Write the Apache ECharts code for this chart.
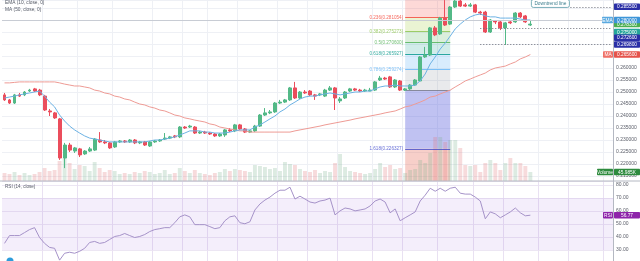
<!DOCTYPE html>
<html><head><meta charset="utf-8">
<script src="https://cdn.jsdelivr.net/npm/echarts@6/dist/echarts.min.js"></script>
<style>html,body{margin:0;padding:0;background:#fff}#c{width:640px;height:261px}</style>
</head><body><div id="c"></div>
<script>
const slotCount = 122;
const categories = [];
(function(){const d0=Date.UTC(2020,0,1);for(let i=0;i<slotCount;i++){categories.push(new Date(d0+i*86400000).toISOString().slice(0,10));}})();

// [open, close, low, high]
const ohlc = [
[0.2488,0.2467,0.2463,0.2496],[0.2467,0.2454,0.2450,0.2471],[0.2454,0.2488,0.2450,0.2492],[0.2488,0.2483,0.2479,0.2496],
[0.2488,0.2500,0.2483,0.2504],[0.2504,0.2508,0.2500,0.2513],[0.2513,0.2504,0.2500,0.2517],[0.2508,0.2488,0.2483,0.2513],
[0.2483,0.2425,0.2421,0.2488],[0.2421,0.2417,0.2400,0.2429],[0.2413,0.2392,0.2388,0.2417],[0.2388,0.2225,0.2217,0.2392],
[0.2225,0.2279,0.2183,0.2288],[0.2279,0.2258,0.2250,0.2288],[0.2254,0.2267,0.2246,0.2271],[0.2263,0.2238,0.2229,0.2267],
[0.2242,0.2254,0.2238,0.2258],[0.2254,0.2263,0.2250,0.2271],[0.2258,0.2304,0.2254,0.2308],[0.2300,0.2292,0.2288,0.2333],
[0.2292,0.2288,0.2283,0.2300],[0.2288,0.2267,0.2263,0.2292],[0.2271,0.2292,0.2267,0.2296],[0.2292,0.2296,0.2288,0.2300],
[0.2296,0.2292,0.2288,0.2300],[0.2292,0.2300,0.2288,0.2304],[0.2300,0.2288,0.2283,0.2304],[0.2288,0.2292,0.2283,0.2296],
[0.2292,0.2279,0.2275,0.2296],[0.2275,0.2292,0.2271,0.2296],[0.2292,0.2296,0.2288,0.2300],[0.2296,0.2300,0.2292,0.2304],
[0.2304,0.2308,0.2300,0.2329],[0.2308,0.2313,0.2304,0.2317],[0.2317,0.2313,0.2308,0.2321],[0.2313,0.2354,0.2308,0.2358],
[0.2354,0.2350,0.2346,0.2358],[0.2354,0.2358,0.2350,0.2363],[0.2354,0.2329,0.2325,0.2358],[0.2329,0.2333,0.2325,0.2338],
[0.2333,0.2329,0.2325,0.2338],[0.2329,0.2325,0.2321,0.2333],[0.2325,0.2317,0.2313,0.2329],[0.2317,0.2325,0.2313,0.2329],
[0.2321,0.2342,0.2313,0.2346],[0.2342,0.2338,0.2333,0.2350],[0.2338,0.2363,0.2333,0.2367],[0.2363,0.2346,0.2342,0.2367],
[0.2346,0.2333,0.2329,0.2350],[0.2333,0.2338,0.2329,0.2342],[0.2338,0.2358,0.2333,0.2363],[0.2358,0.2404,0.2354,0.2408],
[0.2404,0.2413,0.2400,0.2433],[0.2413,0.2417,0.2408,0.2425],[0.2417,0.2454,0.2413,0.2458],[0.2454,0.2458,0.2450,0.2467],
[0.2458,0.2467,0.2454,0.2471],[0.2467,0.2517,0.2463,0.2521],[0.2517,0.2475,0.2471,0.2542],[0.2475,0.2500,0.2471,0.2504],
[0.2500,0.2496,0.2492,0.2508],[0.2504,0.2488,0.2483,0.2508],[0.2488,0.2483,0.2467,0.2492],[0.2488,0.2492,0.2483,0.2496],
[0.2483,0.2508,0.2479,0.2513],[0.2508,0.2517,0.2504,0.2525],[0.2517,0.2475,0.2425,0.2521],[0.2463,0.2471,0.2454,0.2479],
[0.2475,0.2500,0.2471,0.2504],[0.2504,0.2513,0.2500,0.2517],[0.2513,0.2508,0.2504,0.2517],[0.2508,0.2504,0.2500,0.2513],
[0.2504,0.2508,0.2500,0.2513],[0.2504,0.2508,0.2504,0.2517],[0.2508,0.2542,0.2504,0.2546],[0.2550,0.2558,0.2546,0.2567],
[0.2558,0.2554,0.2550,0.2563],[0.2563,0.2521,0.2517,0.2567],[0.2521,0.2550,0.2517,0.2554],[0.2546,0.2508,0.2504,0.2550],
[0.2508,0.2513,0.2504,0.2517],[0.2513,0.2529,0.2508,0.2533],[0.2529,0.2550,0.2525,0.2554],[0.2546,0.2646,0.2542,0.2650],
[0.2646,0.2654,0.2642,0.2688],[0.2654,0.2767,0.2650,0.2771],[0.2767,0.2738,0.2733,0.2775],[0.2742,0.2808,0.2738,0.2813],
[0.2808,0.2779,0.2775,0.2883],[0.2783,0.2854,0.2779,0.2858],[0.2854,0.2879,0.2850,0.2892],[0.2879,0.2858,0.2854,0.2896],
[0.2863,0.2858,0.2854,0.2871],[0.2858,0.2863,0.2854,0.2871],[0.2863,0.2833,0.2829,0.2867],[0.2833,0.2829,0.2821,0.2838],
[0.2833,0.2750,0.2746,0.2838],[0.2750,0.2800,0.2746,0.2804],[0.2796,0.2792,0.2783,0.2800],[0.2792,0.2767,0.2758,0.2796],
[0.2767,0.2788,0.2696,0.2792],[0.2792,0.2788,0.2783,0.2800],[0.2792,0.2829,0.2788,0.2833],[0.2829,0.2813,0.2808,0.2833],
[0.2817,0.2792,0.2788,0.2821],[0.2779,0.2783,0.2775,0.2796]
];

const ema10 = [
0.2475,0.2479,0.2483,0.2488,0.2492,0.2496,0.2500,0.2504,0.2483,0.2458,
0.2438,0.2404,0.2379,0.2358,0.2342,0.2329,0.2317,0.2308,0.2304,0.2300,
0.2296,0.2292,0.2292,0.2292,0.2292,0.2292,0.2292,0.2292,0.2292,0.2296,
0.2300,0.2300,0.2304,0.2308,0.2313,0.2321,0.2329,0.2338,0.2338,0.2338,
0.2333,0.2333,0.2329,0.2329,0.2329,0.2333,0.2338,0.2342,0.2342,0.2342,
0.2354,0.2363,0.2375,0.2388,0.2400,0.2417,0.2429,0.2446,0.2458,0.2471,
0.2479,0.2483,0.2483,0.2488,0.2492,0.2496,0.2492,0.2488,0.2492,0.2496,
0.2500,0.2500,0.2504,0.2504,0.2513,0.2521,0.2525,0.2525,0.2529,0.2525,
0.2525,0.2525,0.2529,0.2546,0.2575,0.2617,0.2646,0.2679,0.2704,0.2733,
0.2763,0.2783,0.2800,0.2813,0.2821,0.2825,0.2817,0.2813,0.2813,0.2808,
0.2808,0.2808,0.2808,0.2804,0.2800,0.2800
];

const ma50 = [
0.2538,0.2538,0.2540,0.2542,0.2542,0.2542,0.2542,0.2542,0.2542,0.2542,
0.2542,0.2538,0.2533,0.2529,0.2525,0.2525,0.2521,0.2517,0.2508,0.2504,
0.2496,0.2492,0.2483,0.2479,0.2471,0.2467,0.2458,0.2450,0.2446,0.2438,
0.2433,0.2425,0.2421,0.2413,0.2404,0.2400,0.2392,0.2388,0.2383,0.2379,
0.2375,0.2367,0.2363,0.2354,0.2350,0.2346,0.2342,0.2338,0.2338,0.2333,
0.2333,0.2333,0.2333,0.2333,0.2333,0.2333,0.2333,0.2333,0.2338,0.2342,
0.2346,0.2350,0.2354,0.2358,0.2363,0.2367,0.2371,0.2375,0.2379,0.2383,
0.2388,0.2392,0.2396,0.2400,0.2404,0.2408,0.2413,0.2417,0.2421,0.2429,
0.2438,0.2442,0.2450,0.2458,0.2467,0.2479,0.2483,0.2492,0.2500,0.2508,
0.2521,0.2533,0.2546,0.2554,0.2563,0.2571,0.2579,0.2592,0.2600,0.2604,
0.2608,0.2617,0.2625,0.2638,0.2646,0.2656
];

// volume in thousands
const volumeK = [
40.9,35.8,46.0,30.7,40.9,30.7,35.8,46.0,66.4,51.1,
56.2,102.2,117.5,92.0,61.3,81.8,76.7,51.1,97.1,66.4,
46.0,56.2,51.1,35.8,40.9,35.8,46.0,40.9,51.1,46.0,
35.8,40.9,56.2,35.8,40.9,66.4,51.1,40.9,56.2,40.9,
35.8,30.7,40.9,46.0,61.3,51.1,61.3,56.2,51.1,46.0,
81.8,76.7,71.5,61.3,66.4,51.1,97.1,86.9,81.8,61.3,
51.1,46.0,56.2,40.9,51.1,46.0,92.0,138.0,71.5,51.1,
46.0,40.9,35.8,40.9,61.3,92.0,71.5,81.8,61.3,66.4,
40.9,56.2,61.3,107.3,92.0,143.1,224.8,224.8,199.3,209.5,
209.5,168.6,81.8,76.7,81.8,46.0,92.0,107.3,92.0,56.2,
92.0,117.5,92.0,92.0,76.7,45.985
];

const rsi14 = [
35.1,41.1,41.1,41.1,43.4,45.7,47.2,39.6,35.1,32.0,
31.3,22.2,27.5,28.3,27.5,29.0,31.3,35.8,36.6,35.1,
35.8,38.1,40.4,41.1,42.7,41.1,39.6,40.4,41.9,44.2,
45.7,46.4,47.2,47.2,51.0,55.5,57.0,55.5,49.5,49.5,
49.5,48.0,46.4,47.2,52.5,55.5,56.3,51.0,50.2,51.7,
60.8,65.4,68.4,70.7,73.7,76.0,76.0,78.3,69.2,71.4,
69.2,66.9,66.1,67.7,68.4,69.9,57.0,60.1,62.3,61.6,
60.1,60.8,61.6,63.9,67.7,69.2,66.9,58.6,61.6,52.5,
54.8,57.0,59.3,67.7,72.2,77.5,75.2,77.5,75.2,77.5,
78.3,73.7,73.0,73.0,70.7,67.7,54.0,59.3,57.8,54.8,
57.0,59.3,62.3,58.6,56.3,56.77
];

// Fibonacci retracement drawing
const fibLevels = [0, 0.236, 0.382, 0.5, 0.618, 0.786, 1, 1.618, 2.618];
const fibLineColors = ['#787b86','#f44336','#8bc34a','#4caf50','#009688','#64b5f6','#787b86','#3f48cc','#f44336'];
const fibZoneColors = [null,'rgba(244,67,54,0.2)','rgba(170,210,80,0.25)','rgba(76,175,80,0.2)','rgba(0,150,136,0.18)','rgba(100,181,246,0.25)','rgba(120,123,134,0.16)','rgba(90,95,220,0.38)','rgba(232,110,90,0.33)'];
const fibHigh = 0.2904, fibLow = 0.2508;
const fibStartIdx = 80, fibEndIdx = 89;

// other drawings
const downtrendPts = [[88, 0.2906], [110, 0.2805]];
const rayLines = [[113, 0.2855], [95, 0.2767], [95, 0.2698]];
const axisMarks = [
  {v:0.2855, bg:'#2a2fa6'},
  {v:0.2750, bg:'#26a69a'},
  {v:0.2726, bg:'#2a2fa6'},
  {v:0.2698, bg:'#2a2fa6'}
];
const gridBoundaries = [8,15,22,30,36,41,47,55,61,67,74,80,87,94,100,107,113,120];

const priceMin = 0.212917, priceMax = 0.288333;
const rsiMin = 21.54, rsiMax = 83.08;
const volMax = 925;

const UP = '#53b987', DOWN = '#eb4d5c';
const FONT = 'Liberation Sans, Arial, sans-serif';

const chart = echarts.init(document.getElementById('c'), null, {renderer:'canvas', width:640, height:261});

const fibPrice = l => fibHigh - (fibHigh - fibLow) * l;
const fibZones = [];
const fibLines = [];
for (let k = 0; k < fibLevels.length; k++) {
  const p = fibPrice(fibLevels[k]);
  if (k > 0) {
    let lo = fibPrice(fibLevels[k]);
    if (lo < priceMin) lo = priceMin;
    fibZones.push([{coord:[categories[fibStartIdx], fibPrice(fibLevels[k-1])], itemStyle:{color:fibZoneColors[k]}},
                   {coord:[categories[fibEndIdx], lo]}]);
  }
  if (p >= priceMin && p <= priceMax) {
    const showLbl = fibLevels[k] !== 1;
    fibLines.push([{coord:[categories[fibStartIdx], p], lineStyle:{color:fibLineColors[k], width:1, type:'solid', opacity:0.8},
      label:{show:showLbl, position:'start', distance:2, color:fibLineColors[k], fontSize:4.6, fontFamily:FONT,
        formatter: fibLevels[k] + '(' + p.toFixed(6) + ')'}},
      {coord:[categories[fibEndIdx], p]}]);
  }
}

const drawLines = [
  [{coord:[categories[downtrendPts[0][0]], downtrendPts[0][1]], lineStyle:{color:'#3f7f8f', width:1, type:'solid'}},
   {coord:[categories[downtrendPts[1][0]], downtrendPts[1][1]]}],
  {yAxis: ema10[ema10.length-1], lineStyle:{color:'#c8ccd4', width:1, type:'solid'}}
];
rayLines.forEach(r => drawLines.push([
  {coord:[categories[r[0]], r[1]], lineStyle:{color:'#6a6d78', width:1, type:[1,2]}},
  {coord:[categories[slotCount-1], r[1]]}
]));

const volData = volumeK.map((v,i) => ({value:v, itemStyle:{color: ohlc[i][1] >= ohlc[i][0] ? 'rgba(120,175,140,0.25)' : 'rgba(225,110,115,0.25)'}}));

const splitFn = (idx) => gridBoundaries.indexOf(idx) >= 0;
const gridLineColor = '#eef0f5';

const option = {
  animation:false,
  backgroundColor:'#ffffff',
  textStyle:{fontFamily:FONT},
  grid:[
    {left:2, right:27, top:0, height:181},
    {left:2, right:27, top:181, height:80}
  ],
  xAxis:[
    {type:'category', gridIndex:0, data:categories, boundaryGap:true,
     axisLine:{show:false}, axisTick:{show:false}, axisLabel:{show:false},
     splitLine:{show:true, interval:splitFn, lineStyle:{color:gridLineColor, width:1}}},
    {type:'category', gridIndex:1, data:categories, boundaryGap:true,
     axisLine:{show:false}, axisTick:{show:false}, axisLabel:{show:false},
     splitLine:{show:true, interval:splitFn, lineStyle:{color:'#e9e1f2', width:1}}}
  ],
  yAxis:[
    {type:'value', gridIndex:0, position:'right', min:priceMin, max:priceMax, splitNumber:15, scale:true,
     axisLine:{show:true, lineStyle:{color:'#b4b8c2', width:1}}, axisTick:{show:false},
     axisLabel:{fontSize:5, color:'#5d606b', margin:3, fontFamily:FONT,
       formatter: v => { const k = v/0.005; return (Math.abs(k-Math.round(k))<1e-6 && v < 0.2605) ? v.toFixed(6) : ''; }},
     splitLine:{show:true, lineStyle:{color:gridLineColor, width:1}}},
    {type:'value', gridIndex:0, min:0, max:volMax, show:false, splitLine:{show:false}},
    {type:'value', gridIndex:1, position:'right', min:rsiMin, max:rsiMax, splitNumber:6, scale:true,
     axisLine:{show:true, lineStyle:{color:'#b4b8c2', width:1}}, axisTick:{show:false},
     axisLabel:{fontSize:5, color:'#5d606b', margin:3, fontFamily:FONT,
       formatter: v => { const k = v/10; return (Math.abs(k-Math.round(k))<1e-6) ? v.toFixed(2) : ''; }},
     splitLine:{show:true, lineStyle:{color:'#ece6f3', width:1}}}
  ],
  series:[
    {type:'line', name:'fib', xAxisIndex:0, yAxisIndex:0, data:[], z:1, silent:true, symbol:'none',
     markArea:{silent:true, z:1, label:{show:false}, data:fibZones},
     markLine:{silent:true, symbol:['none','none'], z:3, data:fibLines}},
    {type:'bar', name:'Volume', xAxisIndex:0, yAxisIndex:1, data:volData, barWidth:'78%', z:2, silent:true},
    {type:'candlestick', name:'price', xAxisIndex:0, yAxisIndex:0, data:ohlc, barWidth:'68%', z:4, silent:true,
     itemStyle:{color:UP, color0:DOWN, borderColor:UP, borderColor0:DOWN, borderWidth:1}},
    {type:'line', name:'MA', xAxisIndex:0, yAxisIndex:0, data:ma50, symbol:'none', z:5, silent:true,
     lineStyle:{color:'#ee9b95', width:1}},
    {type:'line', name:'EMA', xAxisIndex:0, yAxisIndex:0, data:ema10, symbol:'none', z:5, silent:true,
     lineStyle:{color:'#6cb2e4', width:1}},
    {type:'line', name:'drawings', xAxisIndex:0, yAxisIndex:0, data:[], z:6, silent:true, symbol:'none',
     markLine:{silent:true, symbol:['none','none'], z:6, label:{show:false}, data:drawLines}},
    {type:'line', name:'RSI', xAxisIndex:1, yAxisIndex:2, data:rsi14, symbol:'none', z:5, silent:true,
     lineStyle:{color:'#a592c8', width:1},
     markArea:{silent:true, z:1, label:{show:false}, data:[[{yAxis:70, itemStyle:{color:'rgba(170,120,225,0.13)'}},{yAxis:30}]]}}
  ]
};
chart.setOption(option);

// Annotation boxes placed through the axes' scales
function addTags(){
  const g = [];
  const AX = 614, AW = 26, BH = 6.4;
  const yP = v => chart.convertToPixel({yAxisIndex:0}, v);
  const yV = v => chart.convertToPixel({yAxisIndex:1}, v);
  const yR = v => chart.convertToPixel({yAxisIndex:2}, v);
  function box(x, y, w, bg, text, fg){
    g.push({type:'rect', shape:{x:x, y:y-BH/2, width:w, height:BH, r:0.8}, style:{fill:bg}, z:100});
    g.push({type:'text', x:x+w/2, y:y+0.2, style:{text:text, fill:fg||'#ffffff', fontSize:4.8, fontFamily:FONT, align:'center', verticalAlign:'middle'}, z:101});
  }
  const last = ohlc.length-1;
  axisMarks.forEach(m => box(AX, yP(m.v), AW, m.bg, m.v.toFixed(6)));
  const yl = yP(ohlc[last][1]);
  box(AX, yl, AW, ohlc[last][1] >= ohlc[last][0] ? '#4caf50' : '#ef5350', ohlc[last][1].toFixed(6));
  const ye = yP(ema10[last]);
  box(602, ye, 11, '#5aa9e0', 'EMA'); box(AX, ye, AW, '#3d95d8', ema10[last].toFixed(6));
  const ym = yP(ma50[last]);
  box(603, ym, 10, '#ef6f66', 'MA'); box(AX, ym, AW, '#e5534b', ma50[last].toFixed(6));
  const yv = yV(volumeK[last]);
  box(597, yv, 16, '#2e8b3e', 'Volume'); box(AX, yv, AW, '#2e8b3e', volumeK[last].toFixed(3)+'K');
  const yr = yR(rsi14[last]);
  box(603, yr, 10, '#8e24aa', 'RSI'); box(AX, yr, AW, '#8e24aa', rsi14[last].toFixed(2));
  // downtrend label
  const pt = chart.convertToPixel({xAxisIndex:0, yAxisIndex:0}, [categories[109], 0.2869]);
  g.push({type:'rect', shape:{x:pt[0]-19, y:pt[1]-4, width:38, height:8, r:2}, style:{fill:'#ffffff', stroke:'#5a9aa8', lineWidth:0.8}, z:100});
  g.push({type:'text', x:pt[0], y:pt[1]+0.2, style:{text:'Downtrend line', fill:'#3f7f8f', fontSize:4.8, fontFamily:FONT, align:'center', verticalAlign:'middle'}, z:101});
  // panel texts
  g.push({type:'text', x:5, y:2.5, style:{text:'EMA (10, close, 0)', fill:'#555a66', fontSize:4.8, fontFamily:FONT, align:'left', verticalAlign:'middle'}, z:101});
  g.push({type:'text', x:5, y:10, style:{text:'MA (50, close, 0)', fill:'#555a66', fontSize:4.8, fontFamily:FONT, align:'left', verticalAlign:'middle'}, z:101});
  g.push({type:'text', x:5, y:187, style:{text:'RSI (14, close)', fill:'#555a66', fontSize:4.6, fontFamily:FONT, align:'left', verticalAlign:'middle'}, z:101});
  // panel separator
  g.push({type:'line', shape:{x1:0, y1:181, x2:640, y2:181}, style:{stroke:'#b4b8c2', lineWidth:1}, z:90});
  // logo
  g.push({type:'circle', shape:{cx:10, cy:261, r:3.5}, style:{fill:'#2d9cdb'}, z:100});
  chart.setOption({graphic: g});
}
addTags();
</script>
</body></html>
